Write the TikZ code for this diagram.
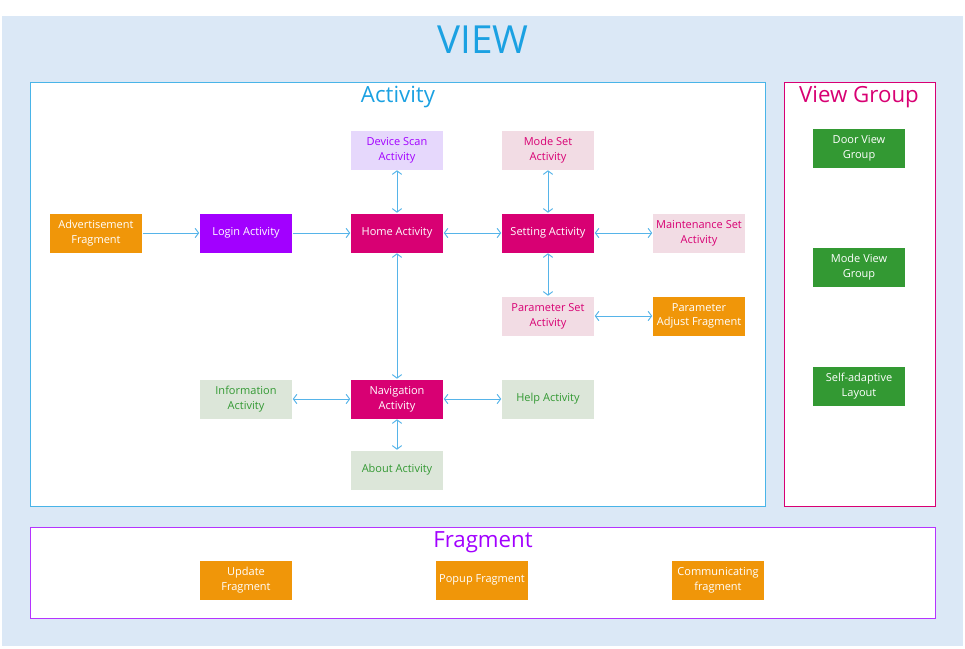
\documentclass[tikz,border=0pt]{standalone}
\usepackage{fontspec}
\setmainfont{Open Sans}
\usetikzlibrary{positioning,arrows.meta}

\definecolor{viewbg}{RGB}{219,232,246}
\definecolor{skyblue}{RGB}{27,161,226}
\definecolor{wirecol}{RGB}{86,180,233}
\definecolor{magentaA}{RGB}{216,0,115}
\definecolor{purpleA}{RGB}{162,0,255}
\definecolor{orangeA}{RGB}{240,150,9}
\definecolor{greenA}{RGB}{51,153,51}
\definecolor{lavenderA}{RGB}{230,216,252}
\definecolor{pinkA}{RGB}{242,220,228}
\definecolor{sageA}{RGB}{220,230,217}

\begin{document}
\begin{tikzpicture}[x=0.03cm,y=-0.03cm,
  box/.style={minimum width=2.79cm,minimum height=1.2cm,align=center,inner sep=1pt,
    draw=white,line width=0.5pt,font=\fontsize{9.4}{12.6}\selectfont},
  orangebox/.style={box,fill=orangeA,text=white},
  purplebox/.style={box,fill=purpleA,text=white},
  magbox/.style={box,fill=magentaA,text=white},
  lavbox/.style={box,fill=lavenderA,text=purpleA},
  pinkbox/.style={box,fill=pinkA,text=magentaA},
  sagebox/.style={box,fill=sageA,text=greenA},
  greenbox/.style={box,fill=greenA,text=white},
  title/.style={font=\fontsize{19}{21}\selectfont},
  wire/.style={draw=wirecol,line width=0.8pt,-{Straight Barb[length=3pt,width=8pt]}},
  wires/.style={draw=wirecol,line width=0.8pt,{Straight Barb[length=3pt,width=8pt]}-{Straight Barb[length=3pt,width=8pt]}}]

\useasboundingbox (0,0) rectangle (965,648);

%Background and frames
\fill[viewbg] (2,16) rectangle (963,646);
\node (view) [font=\fontsize{33}{35}\selectfont, text=skyblue] at (483,40) {VIEW};

\draw[skyblue!80, fill=white, line width=0.6pt] (30,82) rectangle (765,506);
\draw[magentaA, fill=white, line width=0.6pt] (784,82) rectangle (935,506);
\draw[purpleA!80, fill=white, line width=0.6pt] (30,527) rectangle (935,618);

%Frame titles
\node (acttitle) [title, text=skyblue] at (398,97) {Activity};
\node (vgtitle) [title, text=magentaA] at (859,97) {View Group};
\node (fragtitle) [title, text=purpleA] at (483,542) {Fragment};

%Activity nodes
\node (adv) [orangebox] at (96,233) {Advertisement\\Fragment};
\node (login) [purplebox] at (246,233) {Login Activity};
\node (home) [magbox] at (397,233) {Home Activity};
\node (setting) [magbox] at (548,233) {Setting Activity};
\node (scan) [lavbox] at (397,150) {Device Scan\\Activity};
\node (modeset) [pinkbox] at (548,150) {Mode Set\\Activity};
\node (maint) [pinkbox] at (699,233) {Maintenance Set\\Activity};
\node (paramset) [pinkbox] at (548,316) {Parameter Set\\Activity};
\node (paramadj) [orangebox] at (699,316) {Parameter\\Adjust Fragment};
\node (nav) [magbox] at (397,399) {Navigation\\Activity};
\node (info) [sagebox] at (246,399) {Information\\Activity};
\node (help) [sagebox] at (548,399) {Help Activity};
\node (about) [sagebox] at (397,470) {About Activity};

%View group nodes
\node (door) [greenbox] at (859,148) {Door View\\Group};
\node (modeview) [greenbox] at (859,267) {Mode View\\Group};
\node (layout) [greenbox] at (859,386) {Self-adaptive\\Layout};

%Fragment nodes
\node (update) [orangebox] at (246,580) {Update\\Fragment};
\node (popup) [orangebox] at (482,580) {Popup Fragment};
\node (comm) [orangebox] at (718,580) {Communicating\\fragment};

%Connectors
\draw[wire] (adv) -- (login);
\draw[wire] (login) -- (home);
\foreach \a/\b in {home/setting,home/scan,home/nav,setting/modeset,setting/maint,
                   setting/paramset,paramset/paramadj,nav/info,nav/help,nav/about}
  \draw[wires] (\a) -- (\b);

\end{tikzpicture}
\end{document}
